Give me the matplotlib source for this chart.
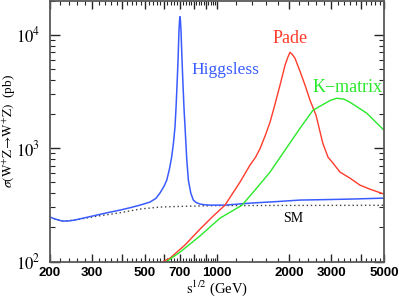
import matplotlib
matplotlib.use('Agg')
import matplotlib.pyplot as plt
import numpy as np

plt.rcParams['mathtext.fontset'] = 'stix'

# Higgsless (blue)
hl_s = [200, 210, 220, 227, 240, 254, 280, 315, 350, 393, 430, 476, 524, 555, 577, 600, 616,
        632, 646, 657, 667, 674, 680, 687, 693, 697, 700, 703, 707, 714, 721, 728, 735, 747,
        759, 777, 796, 820, 849, 890, 935, 1080, 1374, 1800, 2226, 3000, 3603, 5000]
hl_sig = [246, 237, 230, 227, 228, 232, 243, 257, 270, 284, 297, 314, 334, 360, 401, 460, 521,
          650, 832, 1100, 1528, 2300, 3510, 5940, 10700, 13300, 14400, 13300, 10700, 5940, 3510,
          2200, 1528, 800, 521, 400, 348, 330, 321, 316, 314, 314, 327, 338, 348, 352, 355, 362]

# Standard Model (dotted)
sm_s = [200, 210, 227, 254, 315, 393, 476, 577, 700, 796, 1000, 2000, 5000]
sm_sig = [246, 237, 227, 232, 251, 269, 290, 302, 306, 308, 311, 312, 313]

# Pade (red)
pade_s = [596, 636, 735, 849, 953, 1080, 1248, 1374, 1450, 1514, 1590, 1667, 1750, 1835, 1926,
          1975, 2021, 2070, 2121, 2226, 2340, 2451, 2597, 2772, 2915, 3059, 3272, 3603, 3967,
          4369, 5000]
pade_sig = [100, 107, 140, 193, 246, 314, 501, 707, 830, 990, 1280, 1690, 2450, 3580, 5370,
            6250, 6990, 6650, 6190, 4750, 3550, 2640, 1950, 1104, 832, 736, 614, 543, 471, 434,
            393]

# K-matrix (green)
km_s = [616, 700, 849, 1029, 1273, 1442, 1667, 1926, 2226, 2522, 2886, 3000, 3178, 3400, 3603,
        4236, 5000]
km_sig = [100, 121, 168, 241, 314, 426, 614, 958, 1497, 2156, 2535, 2650, 2750, 2700, 2535,
          2028, 1438]

xticks_lab = [200, 300, 500, 700, 1000, 2000, 3000, 5000]
xticks_major = [200, 300, 400, 500, 600, 700, 800, 900, 1000, 2000, 3000, 4000, 5000]
xticks_minor = [v for v in list(range(200, 1000, 20)) + list(range(1000, 5001, 200))
                if v not in xticks_major]

fig = plt.figure(figsize=(3.99, 2.98), dpi=100)
ax = fig.add_axes([50 / 399, 1 - 261.5 / 298, 334 / 399, 261 / 298])

blue = '#3a5cff'
red = '#ff3b2b'
green = '#2ae82a'
ax.plot(sm_s, sm_sig, color='0.25', lw=1.0, ls=(0, (1, 2)))
ax.plot(hl_s, hl_sig, color=blue, lw=1.1)
ax.plot(pade_s, pade_sig, color=red, lw=1.0)
ax.plot(km_s, km_sig, color=green, lw=1.0)

ax.set_xscale('log')
ax.set_yscale('log')
ax.set_xlim(200, 5000)
ax.set_ylim(100, 2e4)

ax.set_xticks(xticks_major)
ax.set_xticklabels([str(v) if v in xticks_lab else '' for v in xticks_major],
                   family='Liberation Sans', fontsize=9.5, weight='bold')
ax.set_xticks(xticks_minor, minor=True)
ax.xaxis.set_minor_formatter(matplotlib.ticker.NullFormatter())

ax.set_yticks([100, 1000, 10000])
ax.set_yticklabels([r'$10^2$', r'$10^3$', r'$10^4$'], fontsize=12)
ax.set_yticks([m * 10 ** e for e in (2, 3) for m in range(2, 10)] + [20000], minor=True)
ax.yaxis.set_minor_formatter(matplotlib.ticker.NullFormatter())

ax.tick_params(which='both', direction='in', top=True, right=True, color='0.15')
ax.tick_params(axis='x', which='major', length=6, width=1.0, pad=4)
ax.tick_params(axis='x', which='minor', length=3, width=0.8)
ax.tick_params(axis='y', which='major', length=7, width=1.0, pad=7)
ax.tick_params(axis='y', which='minor', length=3.5, width=0.8)
for sp in ax.spines.values():
    sp.set_color('0.35')
    sp.set_linewidth(1.3)

ax.set_xlabel(r'$\mathrm{s^{1/2}}$ (GeV)', family='Liberation Serif', fontsize=10.5, labelpad=-0.5)
ax.set_ylabel(r'$\sigma(\mathrm{W^{+}Z\!\rightarrow\! W^{+}Z})$  (pb)', family='Liberation Serif',
              fontsize=9.5)
ax.yaxis.set_label_coords(-0.096, 0.5)

ax.text(785, 4850, 'Higgsless', color=blue, family='Liberation Serif', fontsize=12.5, va='center')
ax.text(2021, 9270, 'Pade', color=red, family='Liberation Serif', fontsize=13, ha='center',
        va='center')
ax.text(0.997, 3435, 'K\u2212matrix', color=green, family='Liberation Serif', fontsize=13,
        ha='right', va='center', transform=ax.get_yaxis_transform())
ax.text(2080, 237, 'SM', color='black', family='Liberation Serif', fontsize=10, ha='center',
        va='center')

fig.savefig('out.png', dpi=100)
